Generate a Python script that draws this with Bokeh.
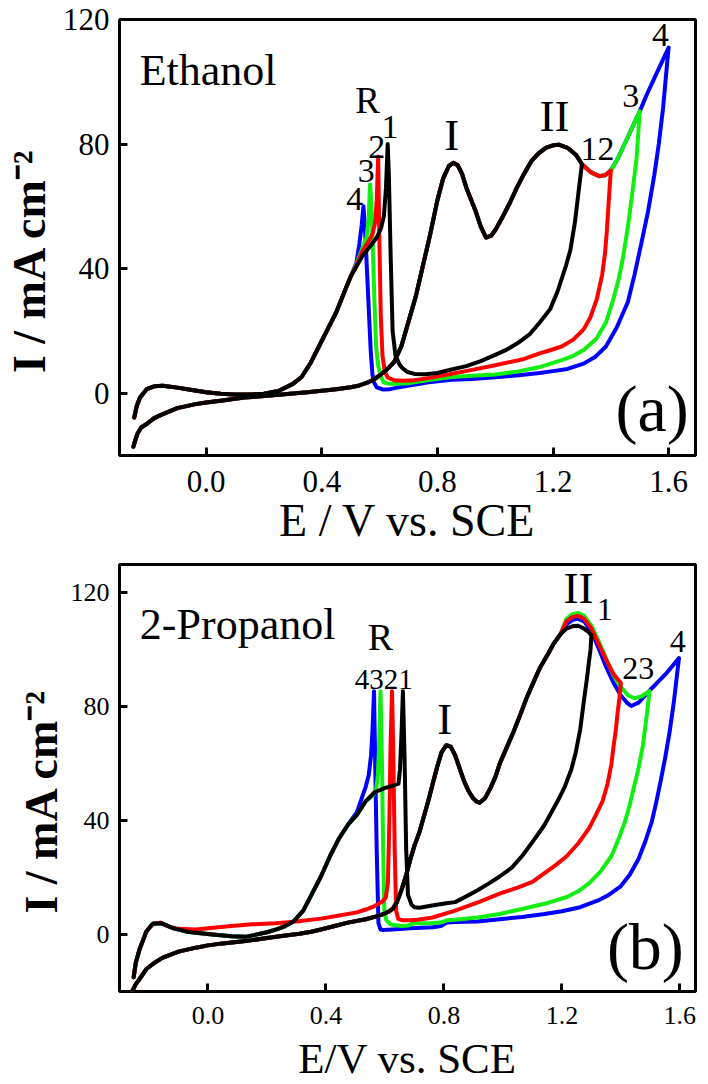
from bokeh.plotting import figure
from bokeh.layouts import column
from bokeh.models import Range1d, FixedTicker, Label, NumeralTickFormatter
from bokeh.embed import file_html
from bokeh.resources import INLINE

SERIF = "Liberation Serif"
BLUE, GREEN, RED, BLACK = "#0000ff", "#11ee11", "#ff0000", "#000000"

X_TICKS = [0.0, 0.4, 0.8, 1.2, 1.6]
Y_TICKS = [0, 40, 80, 120]
Y_LABEL = "I / mA cm\u207b\u00b2"

# ---------------- (a) Ethanol ----------------
ETH_FWD_E = [-0.252, -0.245, -0.238, -0.225, -0.206, -0.18, -0.15, -0.1, -0.037, 0.0, 0.05, 0.1, 0.132, 0.2,
             0.25, 0.3, 0.35, 0.4, 0.45, 0.5, 0.53, 0.56, 0.58, 0.6, 0.625, 0.65, 0.675, 0.7, 0.725, 0.75, 0.775,
             0.8, 0.82, 0.84, 0.855, 0.87, 0.885, 0.9, 0.93, 0.95, 0.968, 0.985, 1.0, 1.025, 1.05, 1.075, 1.1,
             1.125, 1.15, 1.175, 1.2, 1.22, 1.25, 1.28, 1.3]
ETH_FWD_I = [-17.2, -15.0, -13.0, -11.0, -9.9, -8.0, -6.7, -4.8, -3.5, -3.0, -2.4, -1.8, -1.4, -0.9,
             -0.5, -0.1, 0.3, 0.8, 1.3, 1.9, 2.5, 3.5, 4.4, 5.7, 7.6, 10.0, 15.0, 23.0, 31.0, 41.0, 51.0,
             62.0, 69.0, 73.0, 74.0, 73.2, 70.5, 66.0, 59.0, 53.5, 50.0, 50.5, 52.3, 56.5, 61.0, 66.0, 70.5,
             74.5, 77.0, 78.8, 79.6, 79.8, 78.8, 76.5, 73.5]
ETH_EXT_E = [1.33, 1.36, 1.38, 1.4, 1.425, 1.45, 1.475, 1.5, 1.525, 1.55, 1.575, 1.6]
ETH_EXT_I = [71.0, 69.7, 70.0, 71.5, 75.5, 80.5, 85.5, 90.5, 96.0, 101.0, 106.0, 111.0]

ETH_B1_E = [1.29, 1.276, 1.26, 1.245, 1.215, 1.19, 1.154, 1.12, 1.078, 1.04, 1.0, 0.95, 0.9, 0.849, 0.8, 0.758,
            0.72, 0.697, 0.68, 0.67, 0.655, 0.645, 0.638, 0.632, 0.628, 0.622, 0.615, 0.605, 0.59, 0.57, 0.54]
ETH_B1_I = [66.0, 55.0, 46.0, 41.0, 32.5, 27.0, 22.7, 19.0, 16.1, 14.0, 12.3, 10.3, 8.7, 7.6, 6.5, 6.1,
            6.2, 6.8, 8.0, 9.0, 12.0, 20.0, 45.0, 70.0, 80.0, 66.0, 57.0, 53.0, 50.0, 47.5, 44.0]
ETH_B2_E = [1.393, 1.387, 1.38, 1.37, 1.352, 1.33, 1.306, 1.27, 1.23, 1.19, 1.154, 1.1, 1.0, 0.92, 0.849, 0.78,
            0.72, 0.68, 0.65, 0.628, 0.618, 0.61, 0.604, 0.599, 0.595, 0.59, 0.585, 0.575, 0.56, 0.54, 0.52]
ETH_B2_I = [62.0, 53.0, 45.0, 38.0, 30.4, 24.5, 20.5, 17.2, 15.0, 13.8, 12.8, 11.0, 9.0, 7.5, 6.2, 5.0,
            4.2, 4.0, 4.2, 5.0, 7.0, 12.0, 25.0, 50.0, 76.0, 62.0, 55.0, 51.0, 48.5, 45.5, 41.0]
ETH_B3_E = [1.494, 1.489, 1.474, 1.459, 1.443, 1.428, 1.405, 1.383, 1.35, 1.306, 1.27, 1.23, 1.154, 1.08, 1.0,
            0.92, 0.849, 0.77, 0.697, 0.66, 0.636, 0.615, 0.605, 0.595, 0.588, 0.582, 0.576, 0.571, 0.567,
            0.562, 0.555, 0.54, 0.52]
ETH_B3_I = [82.0, 75.3, 64.0, 53.4, 44.0, 36.9, 29.0, 22.7, 17.5, 13.9, 12.0, 10.6, 8.4, 7.0, 6.0,
            5.6, 5.2, 4.2, 3.2, 3.0, 3.0, 3.4, 5.2, 9.0, 15.0, 30.0, 48.0, 62.0, 67.0,
            56.0, 50.0, 46.5, 41.5]
ETH_B4_E = [1.59, 1.581, 1.566, 1.55, 1.528, 1.505, 1.482, 1.459, 1.42, 1.383, 1.345, 1.306, 1.25, 1.2, 1.154,
            1.08, 1.0, 0.92, 0.849, 0.77, 0.697, 0.66, 0.636, 0.61, 0.59, 0.58, 0.575, 0.569, 0.563, 0.557,
            0.552, 0.548, 0.544, 0.538, 0.53, 0.52]
ETH_B4_I = [101.0, 91.7, 80.0, 69.8, 58.0, 47.9, 38.0, 29.3, 21.0, 15.0, 11.6, 9.5, 7.8, 7.1, 6.5,
            5.8, 5.1, 4.6, 4.3, 3.5, 2.4, 1.8, 1.3, 1.2, 1.9, 3.5, 6.2, 14.0, 26.0, 38.0,
            48.0, 55.0, 60.0, 54.0, 48.0, 42.0]
ETH_ENV_E = [0.5, 0.483, 0.45, 0.42, 0.39, 0.36, 0.33, 0.3, 0.25, 0.2, 0.15, 0.1, 0.05, 0.0, -0.05, -0.1,
             -0.15, -0.18, -0.206, -0.229, -0.24, -0.249]
ETH_ENV_I = [37.5, 33.6, 26.0, 20.5, 15.0, 9.5, 5.2, 3.0, 0.7, -0.2, -0.4, -0.4, -0.2, 0.3, 1.0, 1.8,
             2.4, 2.2, 1.3, -1.4, -4.0, -7.8]

# ---------------- (b) 2-Propanol ----------------
IPA_FWD_E = [-0.256, -0.245, -0.232, -0.209, -0.18, -0.153, -0.1, -0.041, 0.0, 0.05, 0.127, 0.2, 0.25, 0.31,
             0.35, 0.383, 0.43, 0.474, 0.535, 0.565, 0.595, 0.615, 0.626, 0.641, 0.656, 0.671, 0.686, 0.701,
             0.717, 0.732, 0.747, 0.762, 0.777, 0.792, 0.808, 0.823, 0.838, 0.853, 0.868, 0.883, 0.898, 0.91,
             0.921, 0.94, 0.959, 0.975, 0.989, 1.012, 1.035, 1.058, 1.08, 1.103, 1.126, 1.15, 1.171, 1.195]
IPA_FWD_I = [-19.7, -17.5, -15.6, -12.1, -9.8, -8.1, -6.0, -4.6, -3.8, -3.1, -2.3, -1.2, -0.5, 0.3,
             1.0, 1.8, 3.0, 4.2, 5.4, 6.2, 7.2, 8.2, 9.0, 11.5, 15.6, 20.5, 26.4, 31.5,
             36.0, 41.5, 46.9, 53.0, 58.9, 64.0, 66.5, 66.0, 63.0, 58.5, 54.0, 50.5, 48.0, 46.8,
             46.3, 48.0, 51.7, 55.5, 60.0, 65.5, 71.0, 77.0, 83.0, 88.5, 93.8, 98.0, 102.0, 105.5]
IPA_T1_E = [1.215, 1.235, 1.255, 1.275, 1.29, 1.3]
IPA_T1_I = [107.5, 108.3, 108.5, 107.5, 106.3, 105.2]
IPA_T2_E = [1.215, 1.235, 1.255, 1.275, 1.3, 1.325, 1.35, 1.375, 1.4]
IPA_T2_I = [110.0, 111.5, 112.0, 111.0, 107.5, 102.0, 96.5, 91.5, 88.4]
IPA_T3_E = [1.215, 1.235, 1.255, 1.275, 1.3, 1.325, 1.35, 1.375, 1.4, 1.425, 1.446, 1.47, 1.497]
IPA_T3_I = [110.8, 112.5, 113.0, 112.0, 108.5, 103.0, 97.0, 91.0, 87.0, 84.0, 83.0, 83.7, 85.5]
IPA_T4_E = [1.215, 1.235, 1.255, 1.275, 1.3, 1.325, 1.35, 1.375, 1.4, 1.42, 1.435, 1.46, 1.5, 1.55, 1.597]
IPA_T4_I = [109.0, 110.5, 111.0, 110.0, 106.5, 100.5, 94.0, 88.5, 84.0, 81.5, 80.3, 81.5, 86.0, 91.3, 97.1]

IPA_B1_E = [1.297, 1.292, 1.285, 1.277, 1.262, 1.247, 1.232, 1.21, 1.186, 1.141, 1.1, 1.065, 1.03, 0.989,
            0.95, 0.914, 0.875, 0.838, 0.808, 0.76, 0.717, 0.7, 0.69, 0.678, 0.672, 0.667, 0.661, 0.656,
            0.651, 0.646, 0.626, 0.595, 0.565]
IPA_B1_I = [100.0, 96.0, 90.0, 84.0, 72.0, 64.0, 58.0, 52.0, 47.0, 38.5, 32.5, 27.6, 23.5, 20.4,
            17.8, 15.6, 13.4, 11.4, 11.0, 10.2, 9.4, 9.6, 10.5, 14.0, 30.0, 60.0, 85.5, 70.0,
            58.0, 53.0, 52.3, 51.3, 50.0]
IPA_B2_E = [1.395, 1.389, 1.383, 1.375, 1.368, 1.355, 1.338, 1.315, 1.292, 1.255, 1.217, 1.18, 1.141, 1.1,
            1.05, 0.989, 0.92, 0.838, 0.762, 0.71, 0.686, 0.66, 0.645, 0.638, 0.633, 0.628, 0.624, 0.619,
            0.615, 0.61, 0.603, 0.59, 0.565, 0.535, 0.505, 0.45, 0.383, 0.3, 0.232, 0.15, 0.08, 0.0,
            -0.041, -0.1, -0.132, -0.162, -0.187, -0.209, -0.232, -0.245, -0.252]
IPA_B2_I = [83.0, 78.0, 72.0, 66.0, 60.0, 53.0, 46.9, 42.0, 37.3, 32.0, 27.6, 24.5, 21.6, 18.5,
            16.5, 14.4, 11.5, 8.4, 6.0, 5.2, 5.0, 5.0, 5.5, 8.4, 30.0, 66.0, 85.5, 66.0,
            40.0, 18.0, 13.0, 11.5, 10.0, 8.8, 7.8, 6.8, 5.6, 4.6, 4.0, 3.6, 3.0, 2.2,
            1.8, 2.0, 2.8, 4.2, 3.8, 1.1, -5.2, -10.0, -15.0]
IPA_B3_E = [1.489, 1.474, 1.459, 1.444, 1.43, 1.414, 1.39, 1.368, 1.33, 1.292, 1.255, 1.217, 1.18, 1.141,
            1.065, 0.989, 0.914, 0.838, 0.81, 0.79, 0.75, 0.7, 0.68, 0.656, 0.62, 0.605, 0.598, 0.594,
            0.59, 0.585, 0.58, 0.576, 0.57, 0.56, 0.55]
IPA_B3_I = [78.0, 66.0, 58.0, 51.7, 45.5, 39.7, 33.0, 27.6, 22.0, 18.0, 15.2, 13.2, 12.0, 10.8,
            9.0, 7.2, 6.0, 5.2, 5.0, 4.2, 4.0, 4.0, 3.2, 3.0, 3.5, 5.0, 8.4, 30.0,
            60.0, 85.5, 66.0, 56.0, 51.0, 49.0, 48.0]
IPA_B4_E = [1.59, 1.58, 1.565, 1.55, 1.535, 1.52, 1.505, 1.482, 1.459, 1.43, 1.398, 1.36, 1.323, 1.262,
            1.2, 1.141, 1.065, 0.989, 0.914, 0.838, 0.81, 0.79, 0.762, 0.686, 0.626, 0.595, 0.585, 0.578,
            0.572, 0.567, 0.563, 0.558, 0.553, 0.545, 0.535, 0.52, 0.505]
IPA_B4_I = [91.0, 82.0, 71.0, 62.0, 54.0, 46.5, 39.7, 32.5, 26.4, 21.0, 16.8, 14.0, 12.0, 9.6,
            8.2, 7.2, 6.2, 5.4, 4.6, 4.4, 4.2, 3.0, 2.6, 2.2, 1.8, 1.6, 1.8, 4.0,
            30.0, 60.0, 85.5, 72.0, 63.0, 56.0, 52.0, 47.5, 43.0]
IPA_ENV_E = [0.535, 0.505, 0.474, 0.444, 0.414, 0.383, 0.353, 0.323, 0.292, 0.262, 0.232, 0.2, 0.156, 0.127,
             0.08, 0.015, -0.041, -0.075, -0.12, -0.159, -0.187, -0.209, -0.232, -0.245, -0.252]
IPA_ENV_I = [46.9, 42.0, 38.5, 33.7, 27.6, 20.4, 14.4, 8.4, 4.8, 3.0, 1.8, 0.8, -0.2, -0.8,
             -0.6, 0.0, 0.6, 1.1, 2.3, 4.0, 3.8, 1.1, -5.2, -10.0, -15.0]

ETH_LABELS = [  # text, x, y, size, align
    ("Ethanol", -0.23, 98.7, 44, "left"),
    ("R", 0.558, 90.2, 37, "center"),
    ("1", 0.636, 81.8, 34, "center"),
    ("2", 0.590, 75.5, 34, "center"),
    ("3", 0.554, 67.8, 34, "center"),
    ("4", 0.514, 58.9, 34, "center"),
    ("I", 0.850, 78.1, 45, "center"),
    ("II", 1.205, 84.1, 45, "center"),
    ("12", 1.354, 74.8, 34, "center"),
    ("3", 1.469, 92.0, 34, "center"),
    ("4", 1.572, 111.5, 34, "center"),
    ("(a)", 1.543, -12.0, 66, "center"),
]
IPA_LABELS = [
    ("2-Propanol", -0.231, 103.8, 44, "left"),
    ("R", 0.585, 100.0, 38, "center"),
    ("4321", 0.596, 86.1, 29, "center"),
    ("I", 0.803, 70.5, 45, "center"),
    ("II", 1.256, 116.6, 45, "center"),
    ("1", 1.345, 110.4, 32, "center"),
    ("23", 1.459, 89.6, 32, "center"),
    ("4", 1.593, 99.0, 32, "center"),
    ("(b)", 1.483, -12.0, 66, "center"),
]


def make_fig(w, h, xmax, ymin, ymax, bl, br, bt, bb, tick_fs, xtick_standoff, xlab, xlab_fs,
             xlab_standoff, ylab_standoff, ylab):
    p = figure(width=w, height=h, x_range=Range1d(-0.3, xmax), y_range=Range1d(ymin, ymax),
               output_backend="svg", toolbar_location=None,
               min_border_left=bl, min_border_right=br, min_border_top=bt, min_border_bottom=bb)
    p.grid.visible = False
    p.background_fill_color = "white"
    p.border_fill_color = "white"
    p.outline_line_color = "black"
    p.outline_line_width = 3
    p.outline_line_alpha = 1.0
    for ax in (p.xaxis[0], p.yaxis[0]):
        ax.axis_line_color = None
        ax.major_tick_in = 8
        ax.major_tick_out = 0
        ax.major_tick_line_width = 3
        ax.major_tick_line_color = "black"
        ax.minor_tick_line_color = None
        ax.major_label_text_font = SERIF
        ax.major_label_text_font_size = f"{tick_fs}px"
        ax.major_label_text_color = "black"
        ax.axis_label_text_font = SERIF
        ax.axis_label_text_color = "black"
    p.xaxis[0].ticker = FixedTicker(ticks=X_TICKS)
    p.xaxis[0].formatter = NumeralTickFormatter(format="0.0")
    p.xaxis[0].major_label_standoff = xtick_standoff
    p.xaxis[0].axis_label = xlab
    p.xaxis[0].axis_label_text_font_size = f"{xlab_fs}px"
    p.xaxis[0].axis_label_text_font_style = "normal"
    p.xaxis[0].axis_label_standoff = xlab_standoff
    p.yaxis[0].ticker = FixedTicker(ticks=Y_TICKS)
    p.yaxis[0].major_label_standoff = 10
    p.yaxis[0].axis_label = ylab
    p.yaxis[0].axis_label_text_font_size = "46px"
    p.yaxis[0].axis_label_text_font_style = "bold"
    p.yaxis[0].axis_label_standoff = ylab_standoff
    return p


def add_curve(p, E, I, color):
    p.line(E, I, line_color=color, line_width=4, line_join="round", line_cap="round")


def add_labels(p, labels):
    for text, x, y, fs, align in labels:
        p.add_layout(Label(x=x, y=y, text=text, text_font=SERIF, text_font_size=f"{fs}px",
                           text_align=align, text_baseline="alphabetic", text_color="black",
                           y_offset=round(0.33 * fs)))


# the visible label sits a little below the centre of the frame, as in the original
pad = "\u00a0" * 4

# ---- panel (a)
p1 = make_fig(708, 550, 1.693, -20, 120, 111, 6, 19, 95, 31, 15, "E / V vs. SCE", 46, 0, 5, Y_LABEL + pad)
add_curve(p1, ETH_FWD_E + ETH_EXT_E + ETH_B4_E + ETH_ENV_E,
          ETH_FWD_I + ETH_EXT_I + ETH_B4_I + ETH_ENV_I, BLUE)
add_curve(p1, ETH_FWD_E + ETH_EXT_E[:8] + ETH_B3_E + ETH_ENV_E,
          ETH_FWD_I + ETH_EXT_I[:8] + ETH_B3_I + ETH_ENV_I, GREEN)
add_curve(p1, ETH_FWD_E + ETH_EXT_E[:4] + ETH_B2_E + ETH_ENV_E,
          ETH_FWD_I + ETH_EXT_I[:4] + ETH_B2_I + ETH_ENV_I, RED)
add_curve(p1, ETH_FWD_E + ETH_B1_E + ETH_ENV_E,
          ETH_FWD_I + ETH_B1_I + ETH_ENV_I, BLACK)
add_labels(p1, ETH_LABELS)

# ---- panel (b)
p2 = make_fig(708, 534, 1.653, -20, 130, 111, 13, 14, 88, 26, 15, "E/V vs. SCE", 43, 8, 1, Y_LABEL + pad)
add_curve(p2, IPA_FWD_E + IPA_T4_E + IPA_B4_E + IPA_ENV_E[2:],
          IPA_FWD_I + IPA_T4_I + IPA_B4_I + IPA_ENV_I[2:], BLUE)
add_curve(p2, IPA_FWD_E + IPA_T3_E + IPA_B3_E + IPA_ENV_E,
          IPA_FWD_I + IPA_T3_I + IPA_B3_I + IPA_ENV_I, GREEN)
add_curve(p2, IPA_FWD_E + IPA_T2_E + IPA_B2_E,
          IPA_FWD_I + IPA_T2_I + IPA_B2_I, RED)
add_curve(p2, IPA_FWD_E + IPA_T1_E + IPA_B1_E + IPA_ENV_E,
          IPA_FWD_I + IPA_T1_I + IPA_B1_I + IPA_ENV_I, BLACK)
add_labels(p2, IPA_LABELS)

layout = column(p1, p2, spacing=0)
open("out.html", "w").write(file_html(layout, INLINE))
